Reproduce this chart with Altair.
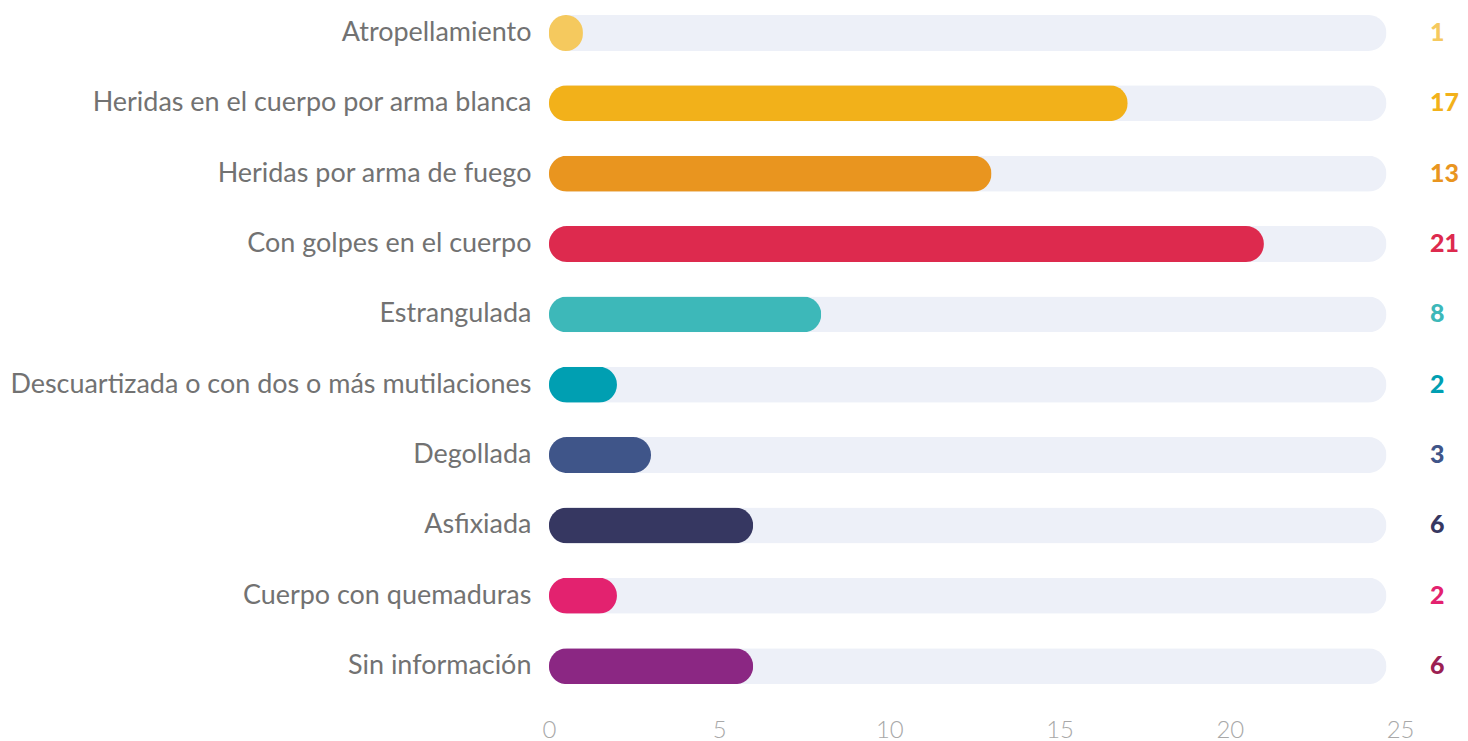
import altair as alt
import pandas as pd

categories = [
    "Atropellamiento",
    "Heridas en el cuerpo por arma blanca",
    "Heridas por arma de fuego",
    "Con golpes en el cuerpo",
    "Estrangulada",
    "Descuartizada o con dos o más mutilaciones",
    "Degollada",
    "Asfixiada",
    "Cuerpo con quemaduras",
    "Sin información",
]
values = [1, 17, 13, 21, 8, 2, 3, 6, 2, 6]
bar_colors = ["#F5C95E", "#F2B11A", "#E9951F", "#DD2A4E", "#3DB8B9",
              "#009FB2", "#3F5589", "#363761", "#E3226F", "#8B2783"]
label_colors = ["#F5C95E", "#F2B11A", "#E9951F", "#DD2A4E", "#3DB8B9",
                "#009FB2", "#3F5589", "#363761", "#E3226F", "#9B2052"]
track_max = 24.6
x_ticks = [0, 5, 10, 15, 20, 25]

df = pd.DataFrame({
    "cat": categories,
    "value": values,
    "color": bar_colors,
    "lcolor": label_colors,
    "track": [track_max] * len(categories),
})

yenc = alt.Y("cat:N", sort=categories,
             scale=alt.Scale(range=[-11, 694], paddingInner=0, paddingOuter=0),
             axis=alt.Axis(title=None, ticks=False, domain=False,
                           labelFont="Lato", labelFontSize=27,
                           labelColor="#727272", labelPadding=18,
                           labelLimit=900))

xscale = alt.Scale(domain=[0, 25], nice=False)

track = alt.Chart(df).mark_bar(height=36, cornerRadius=18, color="#EDF0F8").encode(
    y=yenc,
    x=alt.X("track:Q", scale=xscale,
            axis=alt.Axis(title=None, values=x_ticks, grid=False, domain=False,
                          ticks=False, labelFont="Lato", labelFontSize=24,
                          labelFontWeight=300, labelColor="#A8A8A8",
                          labelPadding=17, labelFlush=False)),
)

bars = alt.Chart(df).mark_bar(height=36, cornerRadius=18).encode(
    y=alt.Y("cat:N", sort=categories),
    x=alt.X("value:Q", scale=xscale),
    color=alt.Color("color:N", scale=None),
)

labels = alt.Chart(df).mark_text(align="left", baseline="middle", dx=30,
                                  font="Lato", fontSize=25, fontWeight=900).encode(
    y=alt.Y("cat:N", sort=categories),
    x=alt.datum(25),
    text=alt.Text("value:Q"),
    color=alt.Color("lcolor:N", scale=None),
)

chart = alt.layer(track, bars, labels).properties(
    width=853, height=694,
    autosize=alt.AutoSizeParams(type="none"),
    padding={"left": 542, "top": 0, "right": 60, "bottom": 40},
).configure(background="white").configure_view(stroke=None, strokeWidth=0)

chart.save("out.html", embed_options={"renderer": "svg", "actions": False})
